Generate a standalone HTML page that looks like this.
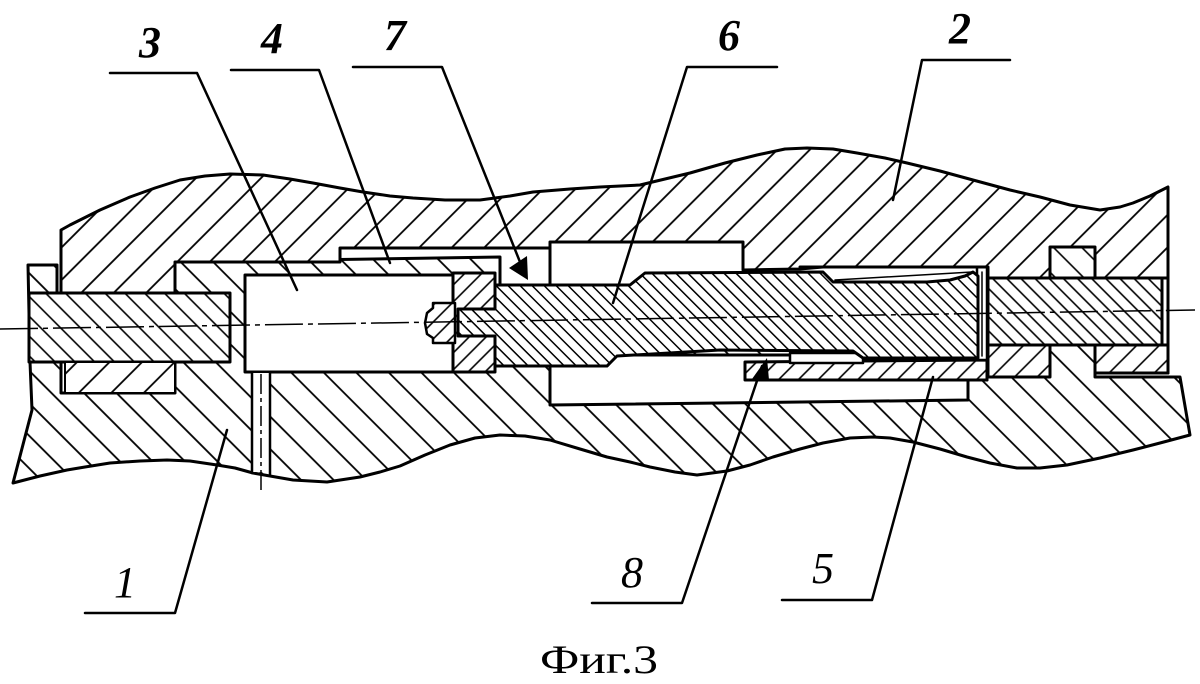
<!DOCTYPE html>
<html><head><meta charset="utf-8"><style>
html,body{margin:0;padding:0;background:#fff;}
svg{display:block;}
text{font-family:"Liberation Serif",serif;fill:#000;}
</style></head><body>
<svg width="1200" height="684" viewBox="0 0 1200 684" xmlns="http://www.w3.org/2000/svg">
<defs>
<pattern id="pA" patternUnits="userSpaceOnUse" width="23" height="23" patternTransform="rotate(45)"><rect width="23" height="23" fill="#fff"/><line x1="11.5" y1="-1" x2="11.5" y2="24" stroke="#000" stroke-width="1.8"/></pattern>
<pattern id="pB" patternUnits="userSpaceOnUse" width="23" height="23" patternTransform="rotate(-45)"><rect width="23" height="23" fill="#fff"/><line x1="11.5" y1="-1" x2="11.5" y2="24" stroke="#000" stroke-width="1.8"/></pattern>
<pattern id="pBolt" patternUnits="userSpaceOnUse" width="14" height="14" patternTransform="rotate(-45)"><rect width="14" height="14" fill="#fff"/><line x1="7" y1="-1" x2="7" y2="15" stroke="#000" stroke-width="1.6"/></pattern>
<pattern id="pRod" patternUnits="userSpaceOnUse" width="8.5" height="8.5" patternTransform="rotate(-45)"><rect width="8.5" height="8.5" fill="#fff"/><line x1="4.25" y1="-1" x2="4.25" y2="9.5" stroke="#000" stroke-width="1.5"/></pattern>
<pattern id="pRB" patternUnits="userSpaceOnUse" width="10" height="10" patternTransform="rotate(-45)"><rect width="10" height="10" fill="#fff"/><line x1="5" y1="-1" x2="5" y2="11" stroke="#000" stroke-width="1.6"/></pattern>
<pattern id="pCap" patternUnits="userSpaceOnUse" width="12" height="12" patternTransform="rotate(45)"><rect width="12" height="12" fill="#fff"/><line x1="6" y1="-1" x2="6" y2="13" stroke="#000" stroke-width="1.6"/></pattern>
<pattern id="pNut" patternUnits="userSpaceOnUse" width="23" height="23" patternTransform="rotate(45)"><rect width="23" height="23" fill="#fff"/><line x1="11.5" y1="-1" x2="11.5" y2="24" stroke="#000" stroke-width="1.8"/></pattern>
<pattern id="pSl" patternUnits="userSpaceOnUse" width="14" height="14" patternTransform="rotate(45)"><rect width="14" height="14" fill="#fff"/><line x1="7" y1="-1" x2="7" y2="15" stroke="#000" stroke-width="1.6"/></pattern>
<pattern id="pLR" patternUnits="userSpaceOnUse" width="16" height="16" patternTransform="rotate(45)"><rect width="16" height="16" fill="#fff"/><line x1="8" y1="-1" x2="8" y2="17" stroke="#000" stroke-width="1.6"/></pattern>
<pattern id="pKey" patternUnits="userSpaceOnUse" width="20" height="20" patternTransform="rotate(-45)"><rect width="20" height="20" fill="#fff"/><line x1="10" y1="-1" x2="10" y2="21" stroke="#000" stroke-width="1.6"/></pattern>
</defs>

<g stroke="#000" stroke-width="3" stroke-linejoin="round" stroke-linecap="round">
<!-- Body 1 (bottom) -->
<polygon fill="url(#pB)" points="28,265 57,265 57,293 175,293 175,262 500,257 500,290 990,290 990,345 1095,345 1095,377 1180,377 1190,435 1160,443 1133,450 1100,458 1067,465 1040,468 1017,468 990,463 967,457 940,449 913,442 890,438 873,437 850,438 823,443 800,449 773,457 750,465 727,471 697,475 675,472 650,467 630,462 607,457 580,449 550,440 525,436 500,435 475,438 450,445 425,455 400,466 380,472 360,477 327,482 293,480 270,476 253,473 235,468 217,465 190,461 167,460 140,461 110,463 85,467 67,470 40,476 13,483 32,410 30,362"/>
<!-- Body 2 (top) -->
<polygon fill="url(#pA)" points="61,293 61,230 70,225 100,210 130,197 155,188 180,180 205,176 230,174 263,175 290,179 313,183 340,188 363,192 390,196 413,198 445,200 480,200 510,196 533,192 570,189 600,187 640,185 665,179 690,173 725,163 757,155 785,149 807,148 833,149 857,153 885,158 907,163 940,171 973,180 1010,190 1040,197 1070,205 1100,210 1120,207 1133,203 1150,196 1168,187 1168,278 988,278 988,267 823,267 800,269 743,270 743,242 550,242 550,248 340,248 340,262 175,262 175,293"/>
<!-- lower right pieces of body 2 -->
<rect x="988" y="345" width="62" height="32" fill="url(#pLR)"/>
<rect x="1095" y="345" width="73" height="28" fill="url(#pLR)"/>
<!-- recess below rod -->
<polygon fill="#fff" points="550,366 607,366 617,355 987,355 987,380 968,380 968,400 550,405"/>
<!-- sleeve 5 -->
<polygon fill="url(#pSl)" points="745,362 987,360 987,380 745,380"/>
<polygon fill="#fff" stroke-width="2.5" points="790,353 863,353 863,363 790,363"/>
<rect x="977" y="267" width="10" height="93" fill="#fff" stroke-width="2.5"/>
<line x1="800" y1="267" x2="987" y2="267"/>
<!-- part 3 -->
<rect x="245" y="275" width="208" height="97" fill="#fff"/>
<!-- hole -->
<rect x="252" y="373" width="18" height="99" fill="#fff" stroke="none"/>
<line x1="252" y1="372" x2="252" y2="473" stroke-width="2.5"/>
<line x1="270" y1="372" x2="270" y2="475" stroke-width="2.5"/>
<!-- left bolt -->
<rect x="29" y="293" width="201" height="69" fill="url(#pBolt)"/>
<!-- nut -->
<rect x="61" y="362" width="114" height="31" fill="#fff"/>
<rect x="65" y="362" width="110" height="31" fill="url(#pNut)" stroke-width="2"/>
<!-- gap small block -->
<rect x="58.5" y="266.5" width="1" height="25" fill="#fff" stroke="none"/>
<!-- cap -->
<polygon fill="url(#pCap)" points="453,273 495,273 495,372 453,372"/>
<polygon fill="url(#pCap)" stroke-width="2.5" points="455,303 433,303 433,308 427,313 425,323 427,334 433,338 433,343 455,343"/>
<!-- rod 6 -->
<polygon fill="url(#pRod)" points="458,309 495,309 495,285 630,285 645,273 823,272 833,282 927,282 950,280 965,276 973,272 978,276 978,358 863,358 853,351 720,350 617,356 607,366 495,366 495,336 458,336"/>
<line x1="835" y1="280" x2="972" y2="272" stroke-width="1.5"/>
<line x1="982" y1="272" x2="982" y2="356" stroke-width="1.5"/>
<!-- right bolt -->
<rect x="988" y="278" width="174" height="67" fill="url(#pRB)"/>
<line x1="1168" y1="278" x2="1168" y2="373"/>
<!-- key -->
<rect x="1050" y="247" width="45" height="31" fill="url(#pKey)"/>
<!-- box 7 divider -->
<line x1="550" y1="248" x2="550" y2="285"/>
</g>

<!-- centerlines -->
<line x1="0" y1="329" x2="1195" y2="310" stroke="#000" stroke-width="1.5" stroke-dasharray="38 5 5 5"/>
<line x1="261" y1="374" x2="261" y2="490" stroke="#000" stroke-width="1.5" stroke-dasharray="20 4 4 4"/>

<!-- arrows -->
<polygon points="509,268 527,256 528,280" fill="#000"/>
<polygon points="752,379 767,358 769,380" fill="#000"/>

<!-- leaders -->
<g stroke="#000" stroke-width="2.5" fill="none" stroke-linecap="round" stroke-linejoin="round">
<polyline points="110,73 197,73 297,290"/>
<polyline points="231,70 319,70 390,263"/>
<polyline points="353,67 442,67 520,262"/>
<polyline points="777,67 687,67 613,303"/>
<polyline points="1010,60 922,60 893,200"/>
<polyline points="85,613 175,613 227,430"/>
<polyline points="592,603 682,603 762,366"/>
<polyline points="782,600 872,600 933,377"/>
</g>

<!-- labels -->
<g font-style="italic" font-size="44" text-anchor="middle">
<text x="150" y="57" font-weight="bold">3</text>
<text x="272" y="53" font-weight="bold">4</text>
<text x="395" y="50" font-weight="bold">7</text>
<text x="729" y="50" font-weight="bold">6</text>
<text x="960" y="43" font-weight="bold">2</text>
<text x="125" y="597">1</text>
<text x="632" y="587">8</text>
<text x="823" y="583">5</text>
</g>
<text x="540" y="673" font-size="40" textLength="118" lengthAdjust="spacingAndGlyphs">Фиг.3</text>
</svg>
</body></html>
